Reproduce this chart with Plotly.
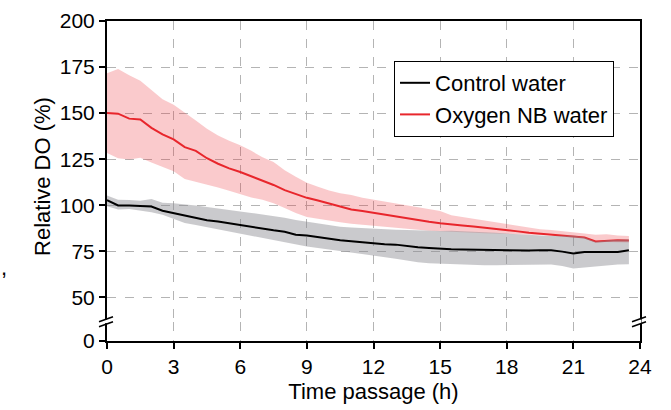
import plotly.graph_objects as go

# ---- data ----
time_h = [0, 0.5, 1, 1.5, 2, 2.5, 3, 3.5, 4, 4.5, 5, 5.5, 6, 6.5, 7, 7.5, 8, 8.5, 9, 9.5,
          10, 10.5, 11, 11.5, 12, 12.5, 13, 13.5, 14, 14.5, 15, 15.5, 16, 16.5, 17, 17.5,
          18, 18.5, 19, 19.5, 20, 20.5, 21, 21.5, 22, 22.5, 23, 23.5]

nb_mean = [150, 149.7, 147, 146.5, 142, 138.5, 135.7, 131.5, 129.5, 125.5, 122.5, 120, 118,
           115.8, 113.2, 111, 108.2, 106, 104, 102.6, 101, 99.2, 97.7, 96.8, 95.8, 94.6, 93.7,
           92.8, 91.9, 91, 90.2, 89.8, 89, 88.4, 87.8, 86.9, 86.5, 85.8, 85, 84.5, 84.1, 83.8,
           83.3, 82.5, 80.3, 80.8, 81, 80.8]
nb_upper = [171.7, 174, 170.5, 167.5, 162.5, 157.5, 154.5, 150, 146, 141.5, 137.8, 135, 132.5,
            129.5, 126, 123.5, 119, 115.5, 112.2, 110, 108, 106.5, 105.5, 104, 103, 102, 101,
            100, 99, 98, 96.8, 94.5, 93.6, 92.5, 91.4, 90.5, 89.8, 89, 88, 87, 86.5, 86, 85.3,
            84.6, 84, 84.2, 83.6, 83.3]
nb_lower = [128.4, 125.5, 124.8, 125.7, 123.2, 121, 118.5, 114.2, 112.8, 111.2, 109.6, 107.8,
            106, 104.2, 103, 101, 98.5, 95.8, 93.6, 92.5, 91.5, 90.7, 90, 89.4, 88.8, 88.3,
            87.7, 87.2, 86.7, 86.2, 85.8, 85.6, 85.3, 85, 84.8, 84.6, 84.4, 84.2, 84, 83.8,
            83.6, 83.5, 83.3, 82, 79.8, 80, 80, 79.8]

ctrl_mean = [102.8, 99.9, 99.9, 99.4, 99.3, 97, 95.8, 94.4, 93.4, 91.8, 91.2, 90.2, 89, 88.2,
             87.2, 86.4, 85.6, 84, 83.6, 82.6, 82, 81, 80.5, 79.8, 79.4, 78.8, 78.6, 77.8, 77.2,
             76.8, 76.3, 76.1, 76, 75.9, 75.6, 75.4, 75.3, 75.3, 75.4, 75.5, 75.5, 74.8, 73.8,
             74.6, 74.8, 74.6, 74.6, 75.5]
ctrl_upper = [105.3, 103, 102.8, 102.4, 103.4, 101.4, 101, 100.5, 99.8, 99, 98.3, 97.6, 96.8,
              95.8, 95, 94.2, 93.2, 92, 91, 90, 89, 88.3, 87.9, 87.5, 87.2, 87, 86.7, 86.5,
              86.3, 86.1, 86, 86.2, 86, 85.8, 85.5, 85, 84.6, 84.2, 83.8, 83.5, 83.3, 83.4,
              83.6, 82.6, 80.2, 81, 81.3, 81.5]
ctrl_lower = [99.5, 97.7, 97.9, 97.2, 96.2, 94.8, 92.8, 90.4, 89.2, 88, 86.8, 85.6, 84.4, 83.2,
              82.4, 81.2, 79.8, 78.6, 77.6, 76.8, 76, 75.2, 74.5, 73.8, 73, 71.8, 71, 70, 69,
              68.5, 68.2, 68, 67.6, 67.4, 67.4, 67.4, 67.4, 67.4, 67.6, 67.8, 67.8, 67, 65.6,
              66.2, 66.8, 67.4, 67.8, 68]

x_ticks = [0, 3, 6, 9, 12, 15, 18, 21, 24]
y_ticks_upper = [50, 75, 100, 125, 150, 175, 200]
y_ticks_lower = [0]

FONT = "Arial, Liberation Sans, sans-serif"
FS_TICK = 21
FS_TITLE = 22
FS_LEG = 22
RED = "#e8262c"
GRID = "#b4b4b4"

fig = go.Figure()

# red band + line
fig.add_trace(go.Scatter(x=time_h, y=nb_upper, mode="lines", line=dict(width=0),
                         showlegend=False, hoverinfo="skip", xaxis="x2", yaxis="y"))
fig.add_trace(go.Scatter(x=time_h, y=nb_lower, mode="lines", line=dict(width=0),
                         fill="tonexty", fillcolor="rgba(236,45,50,0.25)",
                         showlegend=False, hoverinfo="skip", xaxis="x2", yaxis="y"))
fig.add_trace(go.Scatter(x=time_h, y=nb_mean, mode="lines", line=dict(color=RED, width=2),
                         name="Oxygen NB water", xaxis="x2", yaxis="y", legendrank=2))
# gray band + line
fig.add_trace(go.Scatter(x=time_h, y=ctrl_upper, mode="lines", line=dict(width=0),
                         showlegend=False, hoverinfo="skip", xaxis="x2", yaxis="y"))
fig.add_trace(go.Scatter(x=time_h, y=ctrl_lower, mode="lines", line=dict(width=0),
                         fill="tonexty", fillcolor="rgba(140,140,146,0.46)",
                         showlegend=False, hoverinfo="skip", xaxis="x2", yaxis="y"))
fig.add_trace(go.Scatter(x=time_h, y=ctrl_mean, mode="lines", line=dict(color="black", width=2),
                         name="Control water", xaxis="x2", yaxis="y", legendrank=1))
# empty trace so the lower (0-only) subplot gets drawn
fig.add_trace(go.Scatter(x=[None], y=[None], mode="lines", showlegend=False,
                         hoverinfo="skip", xaxis="x", yaxis="y2"))

SPLIT = 19 / 320.0

axis_common = dict(showline=True, linecolor="black", linewidth=2, automargin=False,
                   tickfont=dict(family=FONT, size=FS_TICK, color="black"),
                   gridcolor=GRID, griddash="dash", gridwidth=1, zeroline=False)

fig.update_layout(
    width=671, height=410,
    paper_bgcolor="white", plot_bgcolor="white",
    margin=dict(l=107, r=31, t=21, b=69, autoexpand=False),
    font=dict(family=FONT, size=FS_TICK, color="black"),
    xaxis=dict(domain=[0, 1], anchor="y2", range=[0, 24], tickvals=x_ticks,
               ticks="outside", ticklen=6, tickwidth=2, tickcolor="black", showgrid=True,
               title=dict(text="Time passage (h)", font=dict(family=FONT, size=FS_TITLE),
                          standoff=6),
               **axis_common),
    xaxis2=dict(domain=[0, 1], anchor="y", matches="x", range=[0, 24], tickvals=x_ticks,
                side="top", showticklabels=False, ticks="", showgrid=True, **axis_common),
    yaxis=dict(domain=[SPLIT, 1], anchor="x2", range=[36.6, 200], tickvals=y_ticks_upper,
               ticks="outside", ticklen=6, tickwidth=2, tickcolor="black", mirror=True,
               showgrid=True, **axis_common),
    yaxis2=dict(domain=[0, SPLIT], anchor="x", range=[0, 10.3], tickvals=y_ticks_lower,
                ticks="outside", ticklen=6, tickwidth=2, tickcolor="black", mirror=True,
                showgrid=False, **axis_common),
    legend=dict(x=0.5385, y=0.875, xanchor="left", yanchor="top",
                bgcolor="white", bordercolor="black", borderwidth=1,
                font=dict(family=FONT, size=FS_LEG, color="black"),
                itemwidth=30, tracegroupgap=0, traceorder="normal"),
    showlegend=True,
)

# y-axis title as annotation for exact placement
fig.add_annotation(text="Relative DO (%)", textangle=-90, xref="paper", yref="paper",
                   x=-0.122, y=0.5156, xanchor="center", yanchor="middle", showarrow=False,
                   font=dict(family=FONT, size=FS_TITLE, color="black"))
# stray comma at the left edge (from the neighbouring panel)
fig.add_annotation(text=",", xref="paper", yref="paper", x=-0.193, y=0.23,
                   xanchor="center", yanchor="middle", showarrow=False,
                   font=dict(family=FONT, size=FS_TITLE, color="black"))

# axis-break marks on left and right spines
for xa in (0, 1):
    fig.add_shape(type="line", xref="paper", yref="paper", xsizemode="pixel", ysizemode="pixel",
                  xanchor=xa, yanchor=SPLIT, x0=-1, x1=-1, y0=-1.2, y1=2.6,
                  line=dict(color="white", width=5), layer="above")
    for dy in (0.3, -4.7):
        fig.add_shape(type="line", xref="paper", yref="paper", xsizemode="pixel",
                      ysizemode="pixel", xanchor=xa, yanchor=SPLIT,
                      x0=-8, x1=6, y0=dy, y1=dy + 5,
                      line=dict(color="black", width=1.6), layer="above")

# remove the browser's default page margin so the figure sits at the window origin
fig.write_html("out.html", config={"displayModeBar": False},
               post_script="document.body.style.margin='0';")
